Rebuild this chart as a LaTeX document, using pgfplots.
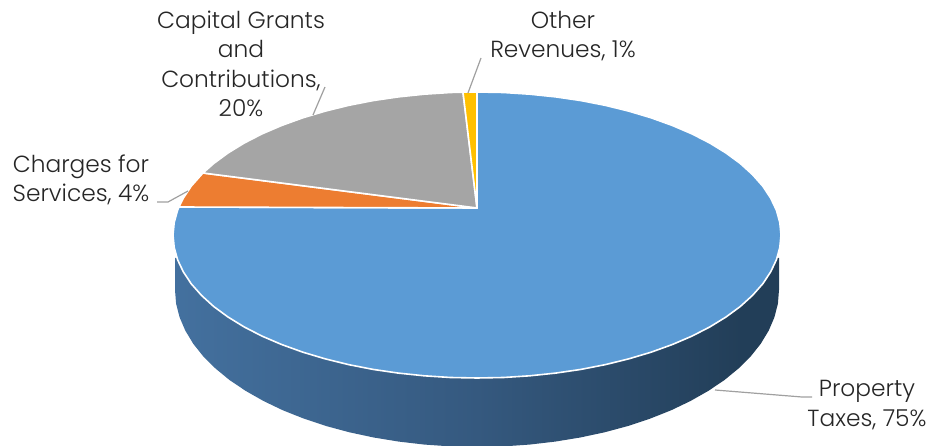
\documentclass[border=0pt]{standalone}
\usepackage{fontspec}
\setmainfont{Poppins}[UprightFont={* Light}]
\usepackage{pgfplots}
\pgfplotsset{compat=1.18}
\definecolor{blueTop}{HTML}{5B9BD5}
\definecolor{orangeTop}{HTML}{ED7D31}
\definecolor{grayTop}{HTML}{A5A5A5}
\definecolor{goldTop}{HTML}{FFC000}
\definecolor{sideA}{HTML}{5288BE}
\definecolor{sideB}{HTML}{35597F}
\definecolor{sideC}{HTML}{223E58}
\definecolor{leader}{HTML}{A0A0A0}
\definecolor{labeltext}{HTML}{262626}
\pgfdeclarehorizontalshading{pieside}{100bp}{color(0bp)=(sideA); color(50bp)=(sideB); color(72bp)=(sideC); color(100bp)=(sideC)}
\tikzset{pielabel/.style={text=labeltext, font=\fontsize{23.3}{29.5}\selectfont, align=center, inner sep=0pt}}
\begin{document}
\begin{tikzpicture}
\useasboundingbox (0,0) rectangle (932pt,446pt);
\begin{axis}[
    hide axis, scale only axis, clip=false,
    width=932pt, height=446pt,
    xmin=0, xmax=932, ymin=0, ymax=446,
    y dir=reverse,
]
% side wall of the 3D pie
\addplot[draw=none, shade, shading=pieside] coordinates {
(779,258) (779,290) (777.9,303.7) (774.4,317.3) (768.7,330.6) (760.8,343.7) (750.7,356.4) (738.5,368.5)
(724.4,380.1) (708.3,390.9) (690.5,401) (671.1,410.3) (650.2,418.6) (628,426) (604.6,432.3) (580.3,437.5)
(555.2,441.6) (529.4,444.6) (503.3,446.4) (477,446) (450.7,446.4) (424.6,444.6) (398.8,441.6) (373.7,437.5)
(349.4,432.3) (326,426) (303.8,418.6) (282.9,410.3) (263.5,401) (245.7,390.9) (229.6,380.1) (215.5,368.5)
(203.3,356.4) (193.2,343.7) (185.3,330.6) (179.6,317.3) (176.1,303.7) (175,290) (175,258)} -- cycle;
% Property Taxes, 75%
\addplot[fill=blueTop, draw=white, line width=1.6pt, line join=round] coordinates {
(477,208) (477,92) (503.5,92.5) (529.8,94.2) (555.7,96.9) (581,100.6) (605.5,105.4) (629,111.2) (651.4,117.9)
(672.4,125.5) (692,133.9) (709.9,143.1) (726,153) (740.3,163.5) (752.5,174.6) (762.7,186.1) (770.6,198)
(776.4,210.2) (779.8,222.5) (781,235) (779.8,247.5) (776.4,259.8) (770.6,272) (762.7,283.9) (752.5,295.4)
(740.3,306.5) (726,317) (709.9,326.9) (692,336.1) (672.4,344.5) (651.4,352.1) (629,358.8) (605.5,364.6)
(581,369.4) (555.7,373.1) (529.8,375.8) (503.5,377.5) (477,378) (450.5,377.5) (424.2,375.8) (398.3,373.1)
(373,369.4) (348.5,364.6) (325,358.8) (302.6,352.1) (281.6,344.5) (262,336.1) (244.1,326.9) (228,317)
(213.7,306.5) (201.5,295.4) (191.3,283.9) (183.4,272) (177.6,259.8) (174.2,247.5) (173,235) (174.2,222.5)
(177.6,210.2) (179,207)} -- cycle;
% Charges for Services, 4%
\addplot[fill=orangeTop, draw=white, line width=1.6pt, line join=round] coordinates {
(477,208) (179,207) (183.4,198) (191.3,186.1) (201.5,174.6) (203,173)} -- cycle;
% Capital Grants and Contributions, 20%
\addplot[fill=grayTop, draw=white, line width=1.6pt, line join=round] coordinates {
(477,208) (203,173) (213.7,163.5) (228,153) (244.1,143.1) (262,133.9) (281.6,125.5) (302.6,117.9) (325,111.2)
(348.5,105.4) (373,100.6) (398.3,96.9) (424.2,94.2) (450.5,92.5) (463,92.2)} -- cycle;
% Other Revenues, 1%
\addplot[fill=goldTop, draw=white, line width=1.6pt, line join=round] coordinates {
(477,208) (463,92.2) (470,92) (477,92)} -- cycle;
% leader lines
\addplot[leader, line width=1.2pt] coordinates {(157,202) (168,202) (188,191)};
\addplot[leader, line width=1.2pt] coordinates {(325,87) (313,115)};
\addplot[leader, line width=1.2pt] coordinates {(481,58) (468,93)};
\addplot[leader, line width=1.2pt] coordinates {(812,397) (802,397) (715,390)};
% data labels
\node[pielabel] at (axis cs:241,64) {Capital Grants\\and\\Contributions,\\20\%};
\node[pielabel] at (axis cs:563,36) {Other\\Revenues, 1\%};
\node[pielabel] at (axis cs:81,180) {Charges for\\Services, 4\%};
\node[pielabel] at (axis cs:867,405) {Property\\Taxes, 75\%};
\end{axis}
\end{tikzpicture}
\end{document}
